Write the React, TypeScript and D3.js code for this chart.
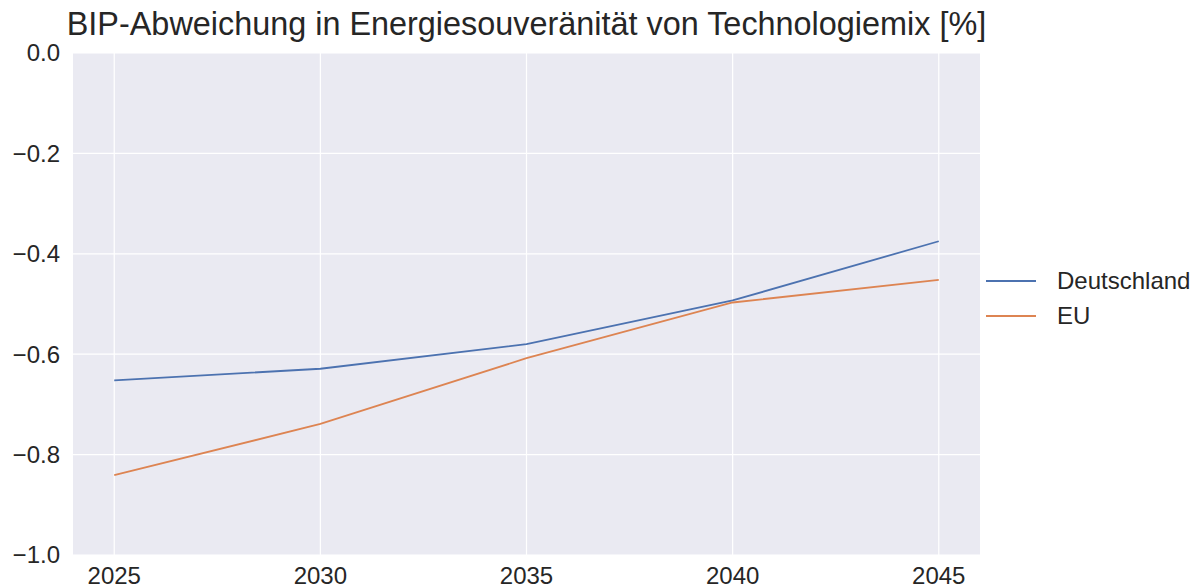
import React from "react";
import * as d3 from "d3";

const years = [2025, 2030, 2035, 2040, 2045];
const deutschland = [-0.652, -0.629, -0.58, -0.493, -0.375];
const eu = [-0.841, -0.739, -0.608, -0.497, -0.452];
const yTicks = [0, -0.2, -0.4, -0.6, -0.8, -1.0];
const seriesNames = ["Deutschland", "EU"];
const seriesColors = ["#4c72b0", "#dd8452"];
const title = "BIP-Abweichung in Energiesouveränität von Technologiemix [%]";

export default function App() {
  const W = 1200, H = 587;
  const left = 73, right = 980, top = 53, bottom = 555;
  const x = d3.scaleLinear().domain([2024, 2046]).range([left, right]);
  const y = d3.scaleLinear().domain([-1, 0]).range([bottom, top]);
  const line = d3.line<number>().x((_, i) => x(years[i])).y((d) => y(d));
  const series = [deutschland, eu];
  const font = "Arial, 'Liberation Sans', sans-serif";
  const fmt = (v: number) => (v < 0 ? "\u2212" : "") + Math.abs(v).toFixed(1);
  return (
    <svg width={W} height={H} style={{ position: "absolute", left: 0, top: 0, background: "#fff" }} fontFamily={font}>
      <rect x={left} y={top} width={right - left} height={bottom - top} fill="#eaeaf2" />
      {yTicks.map((t) => (
        <line key={"gy" + t} x1={left} x2={right} y1={y(t)} y2={y(t)} stroke="#fff" strokeWidth={1.2} />
      ))}
      {years.map((t) => (
        <line key={"gx" + t} x1={x(t)} x2={x(t)} y1={top} y2={bottom} stroke="#fff" strokeWidth={1.2} />
      ))}
      {series.map((s, i) => (
        <path key={i} d={line(s) || ""} fill="none" stroke={seriesColors[i]} strokeWidth={1.8} />
      ))}
      {yTicks.map((t) => (
        <text key={"ty" + t} x={60} y={y(t)} dy="0.35em" textAnchor="end" fontSize={24} fill="#262626">
          {fmt(t)}
        </text>
      ))}
      {years.map((t) => (
        <text key={"tx" + t} x={x(t)} y={584} textAnchor="middle" fontSize={24} fill="#262626">
          {t}
        </text>
      ))}
      <text x={(left + right) / 2} y={35} textAnchor="middle" fontSize={32.4} fill="#262626">
        {title}
      </text>
      {seriesNames.map((n, i) => (
        <g key={n}>
          <line x1={986} x2={1036} y1={281 + i * 35} y2={281 + i * 35} stroke={seriesColors[i]} strokeWidth={1.8} />
          <text x={1057} y={281 + i * 35} dy="0.35em" fontSize={24} fill="#262626">
            {n}
          </text>
        </g>
      ))}
    </svg>
  );
}
